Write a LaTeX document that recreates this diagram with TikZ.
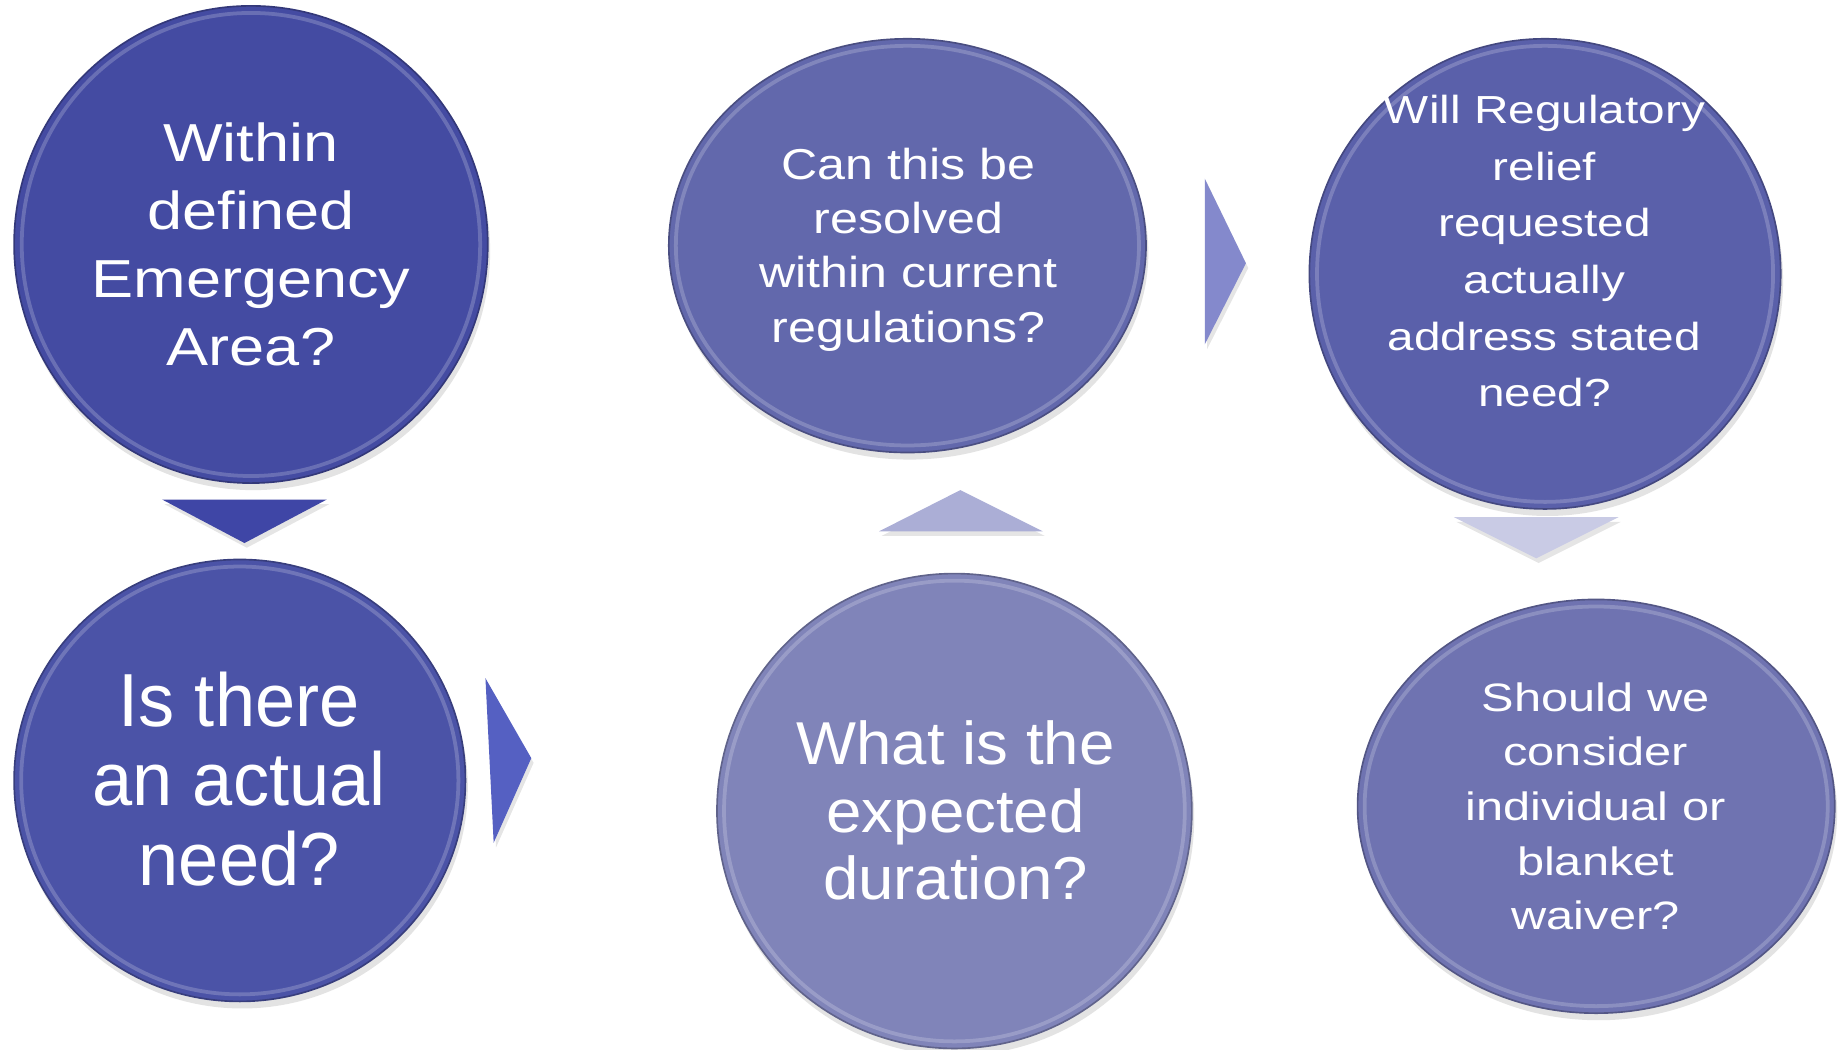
\documentclass[tikz,border=0pt]{standalone}
\usepackage{fontspec}
\setmainfont{Liberation Sans}
\usetikzlibrary{shapes.geometric,shadows}
\definecolor{bA}{HTML}{444BA2}
\definecolor{bB}{HTML}{4B53A7}
\definecolor{bC}{HTML}{6268AC}
\definecolor{bD}{HTML}{8084B9}
\definecolor{bE}{HTML}{5A60AA}
\definecolor{bF}{HTML}{6F73B1}
\definecolor{tA}{HTML}{3F46A6}
\definecolor{tB}{HTML}{5560C2}
\definecolor{tC}{HTML}{ABAED6}
\definecolor{tD}{HTML}{8489CC}
\definecolor{tE}{HTML}{C9CBE5}
\begin{document}
\begin{tikzpicture}[x=0.5pt,y=-0.5pt,
  bubble/.style={ellipse, inner sep=0pt, outer sep=0pt, fill=#1, draw=#1!75!black, line width=0.7pt,
    drop shadow={shadow xshift=1pt, shadow yshift=-3pt, opacity=0.22}},
  rim/.style={draw=white, opacity=0.2, line width=1.6pt},
  qtext/.style={text=white, align=center, anchor=base, inner sep=0pt},
  tri/.style={fill=#1, drop shadow={shadow xshift=1pt, shadow yshift=-2pt, opacity=0.2}}]
\useasboundingbox[fill=white] (0,0) rectangle (1568,892.5);

% bubbles
\node[bubble=bA, minimum width=201.5pt, minimum height=203pt] (q1) at (213.5,208) {};
\node[bubble=bB, minimum width=192pt, minimum height=188pt] (q2) at (204,664) {};
\node[bubble=bC, minimum width=203pt, minimum height=176pt] (q3) at (772,209) {};
\node[bubble=bD, minimum width=202pt, minimum height=202pt] (q4) at (812,690) {};
\node[bubble=bE, minimum width=200.5pt, minimum height=200pt] (q5) at (1314.5,233) {};
\node[bubble=bF, minimum width=203pt, minimum height=176pt] (q6) at (1358,686) {};

% bevel rims
\draw[rim] (q1.center) ellipse [x radius=195, y radius=197];
\draw[rim] (q2.center) ellipse [x radius=186, y radius=182];
\draw[rim] (q3.center) ellipse [x radius=197, y radius=170];
\draw[rim] (q4.center) ellipse [x radius=196, y radius=196];
\draw[rim] (q5.center) ellipse [x radius=194, y radius=194];
\draw[rim] (q6.center) ellipse [x radius=197, y radius=170];

% triangles
\fill[tri=tA] (138,425) -- (278,425) -- (208,462) -- cycle;
\fill[tri=tB] (413,577) -- (452,645) -- (420,717) -- cycle;
\fill[tri=tC] (748,452) -- (887,452) -- (817,417) -- cycle;
\fill[tri=tD] (1025,152) -- (1060,224) -- (1025,293) -- cycle;
\fill[tri=tE] (1237,440) -- (1377,440) -- (1307,475) -- cycle;

% texts
\node[qtext, xscale=1.18, font={\fontsize{22.75pt}{29pt}\selectfont}] (t1) at (213.5,311)
  {Within\\defined\\Emergency\\Area?};
\node[qtext, xscale=0.96, font={\fontsize{32pt}{33.7pt}\selectfont}] (t2) at (203.5,753)
  {Is there\\an actual\\need?};
\node[qtext, xscale=1.16, font={\fontsize{18.4pt}{23pt}\selectfont}] (t3) at (773,291)
  {Can this be\\resolved\\within current\\regulations?};
\node[qtext, xscale=1.05, font={\fontsize{25.75pt}{28.8pt}\selectfont}] (t4) at (813,765.5)
  {What is the\\expected\\duration?};
\node[qtext, xscale=1.22, font={\fontsize{16.65pt}{24.1pt}\selectfont}] (t5) at (1314,346)
  {Will Regulatory\\relief\\requested\\actually\\address stated\\need?};
\node[qtext, xscale=1.23, font={\fontsize{16.85pt}{23.25pt}\selectfont}] (t6) at (1357.5,791)
  {Should we\\consider\\individual or\\blanket\\waiver?};
\end{tikzpicture}
\end{document}
